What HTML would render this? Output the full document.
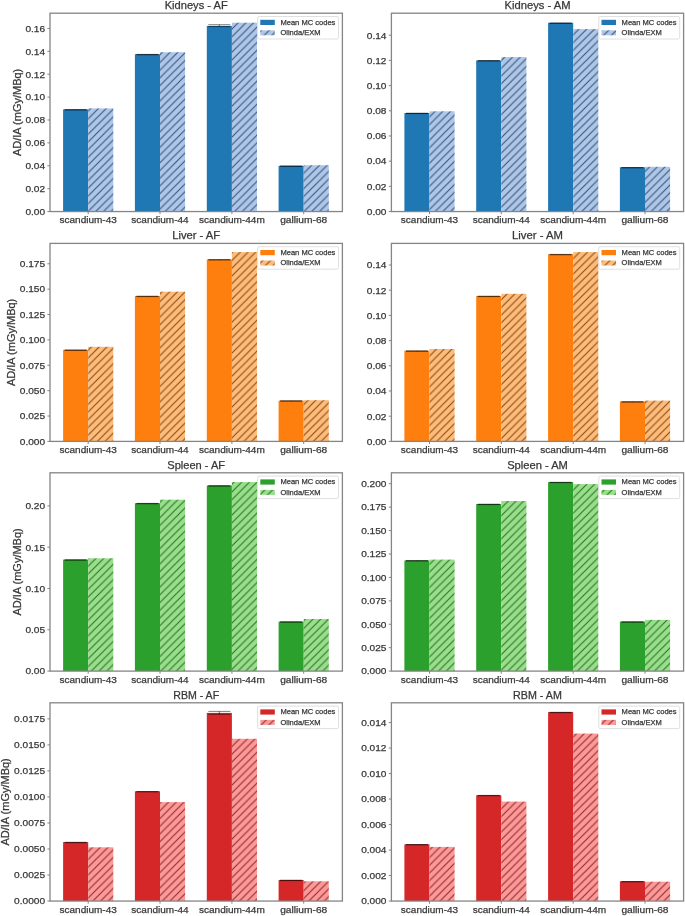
<!DOCTYPE html><html><head><meta charset="utf-8"><style>html,body{margin:0;padding:0;background:#fff;}svg{display:block;filter:blur(0.35px);} text{font-family:"Liberation Sans",sans-serif;fill:#383838;stroke:#383838;stroke-width:0.25px;}</style></head><body>
<svg width="685" height="916" viewBox="0 0 685 916">
<defs>
<pattern id="h_0" patternUnits="userSpaceOnUse" x="6.360" y="0" width="7.715" height="7.715">
<rect width="7.715" height="7.715" fill="#aec7e8"/>
<path d="M-1,8.715 L8.715,-1 M6.715,8.715 L8.715,6.715 M-1,1 L1,-1" stroke="#223f66" stroke-opacity="0.85" stroke-width="1.1" fill="none"/>
</pattern>
<pattern id="h_1" patternUnits="userSpaceOnUse" x="6.360" y="0" width="7.715" height="7.715">
<rect width="7.715" height="7.715" fill="#aec7e8"/>
<path d="M-1,8.715 L8.715,-1 M6.715,8.715 L8.715,6.715 M-1,1 L1,-1" stroke="#223f66" stroke-opacity="0.85" stroke-width="1.1" fill="none"/>
</pattern>
<pattern id="h_2" patternUnits="userSpaceOnUse" x="6.360" y="0" width="7.715" height="7.715">
<rect width="7.715" height="7.715" fill="#ffbb78"/>
<path d="M-1,8.715 L8.715,-1 M6.715,8.715 L8.715,6.715 M-1,1 L1,-1" stroke="#6e3a0c" stroke-opacity="0.85" stroke-width="1.1" fill="none"/>
</pattern>
<pattern id="h_3" patternUnits="userSpaceOnUse" x="6.360" y="0" width="7.715" height="7.715">
<rect width="7.715" height="7.715" fill="#ffbb78"/>
<path d="M-1,8.715 L8.715,-1 M6.715,8.715 L8.715,6.715 M-1,1 L1,-1" stroke="#6e3a0c" stroke-opacity="0.85" stroke-width="1.1" fill="none"/>
</pattern>
<pattern id="h_4" patternUnits="userSpaceOnUse" x="6.360" y="0" width="7.715" height="7.715">
<rect width="7.715" height="7.715" fill="#98df8a"/>
<path d="M-1,8.715 L8.715,-1 M6.715,8.715 L8.715,6.715 M-1,1 L1,-1" stroke="#1c5e1c" stroke-opacity="0.85" stroke-width="1.1" fill="none"/>
</pattern>
<pattern id="h_5" patternUnits="userSpaceOnUse" x="6.360" y="0" width="7.715" height="7.715">
<rect width="7.715" height="7.715" fill="#98df8a"/>
<path d="M-1,8.715 L8.715,-1 M6.715,8.715 L8.715,6.715 M-1,1 L1,-1" stroke="#1c5e1c" stroke-opacity="0.85" stroke-width="1.1" fill="none"/>
</pattern>
<pattern id="h_6" patternUnits="userSpaceOnUse" x="6.360" y="0" width="7.715" height="7.715">
<rect width="7.715" height="7.715" fill="#ff9896"/>
<path d="M-1,8.715 L8.715,-1 M6.715,8.715 L8.715,6.715 M-1,1 L1,-1" stroke="#702020" stroke-opacity="0.85" stroke-width="1.1" fill="none"/>
</pattern>
<pattern id="h_7" patternUnits="userSpaceOnUse" x="6.360" y="0" width="7.715" height="7.715">
<rect width="7.715" height="7.715" fill="#ff9896"/>
<path d="M-1,8.715 L8.715,-1 M6.715,8.715 L8.715,6.715 M-1,1 L1,-1" stroke="#702020" stroke-opacity="0.85" stroke-width="1.1" fill="none"/>
</pattern>
</defs>
<rect width="685" height="916" fill="#fff"/>
<rect x="63.10" y="109.40" width="25.10" height="102.15" fill="#1f77b4"/>
<rect x="88.20" y="108.40" width="25.10" height="103.15" fill="url(#h_0)"/>
<rect x="134.90" y="54.20" width="25.10" height="157.35" fill="#1f77b4"/>
<rect x="160.00" y="52.20" width="25.10" height="159.35" fill="url(#h_0)"/>
<rect x="206.80" y="25.90" width="25.10" height="185.65" fill="#1f77b4"/>
<rect x="231.90" y="22.70" width="25.10" height="188.85" fill="url(#h_0)"/>
<rect x="278.60" y="165.80" width="25.10" height="45.75" fill="#1f77b4"/>
<rect x="303.70" y="165.20" width="25.10" height="46.35" fill="url(#h_0)"/>
<path d="M64.65,109.60 H86.65 M64.65,110.00 H86.65 M75.65,109.60 V110.00" stroke="#000" stroke-opacity="0.5" stroke-width="1" fill="none"/>
<path d="M136.45,54.40 H158.45 M136.45,54.80 H158.45 M147.45,54.40 V54.80" stroke="#000" stroke-opacity="0.5" stroke-width="1" fill="none"/>
<path d="M208.35,24.70 H230.35 M208.35,26.60 H230.35 M219.35,24.70 V26.60" stroke="#000" stroke-opacity="0.5" stroke-width="1" fill="none"/>
<path d="M280.15,166.00 H302.15 M280.15,166.40 H302.15 M291.15,166.00 V166.40" stroke="#000" stroke-opacity="0.5" stroke-width="1" fill="none"/>
<rect x="50.00" y="13.20" width="292.40" height="198.35" fill="none" stroke="#858585" stroke-width="1.3"/>
<line x1="47.40" y1="211.55" x2="50.00" y2="211.55" stroke="#858585" stroke-width="1"/>
<text x="45.10" y="214.85" font-size="9.20" text-anchor="end" textLength="19.70" lengthAdjust="spacingAndGlyphs">0.00</text>
<line x1="47.40" y1="188.66" x2="50.00" y2="188.66" stroke="#858585" stroke-width="1"/>
<text x="45.10" y="191.96" font-size="9.20" text-anchor="end" textLength="19.70" lengthAdjust="spacingAndGlyphs">0.02</text>
<line x1="47.40" y1="165.77" x2="50.00" y2="165.77" stroke="#858585" stroke-width="1"/>
<text x="45.10" y="169.07" font-size="9.20" text-anchor="end" textLength="19.70" lengthAdjust="spacingAndGlyphs">0.04</text>
<line x1="47.40" y1="142.88" x2="50.00" y2="142.88" stroke="#858585" stroke-width="1"/>
<text x="45.10" y="146.18" font-size="9.20" text-anchor="end" textLength="19.70" lengthAdjust="spacingAndGlyphs">0.06</text>
<line x1="47.40" y1="119.99" x2="50.00" y2="119.99" stroke="#858585" stroke-width="1"/>
<text x="45.10" y="123.29" font-size="9.20" text-anchor="end" textLength="19.70" lengthAdjust="spacingAndGlyphs">0.08</text>
<line x1="47.40" y1="97.10" x2="50.00" y2="97.10" stroke="#858585" stroke-width="1"/>
<text x="45.10" y="100.40" font-size="9.20" text-anchor="end" textLength="19.70" lengthAdjust="spacingAndGlyphs">0.10</text>
<line x1="47.40" y1="74.21" x2="50.00" y2="74.21" stroke="#858585" stroke-width="1"/>
<text x="45.10" y="77.51" font-size="9.20" text-anchor="end" textLength="19.70" lengthAdjust="spacingAndGlyphs">0.12</text>
<line x1="47.40" y1="51.32" x2="50.00" y2="51.32" stroke="#858585" stroke-width="1"/>
<text x="45.10" y="54.62" font-size="9.20" text-anchor="end" textLength="19.70" lengthAdjust="spacingAndGlyphs">0.14</text>
<line x1="47.40" y1="28.43" x2="50.00" y2="28.43" stroke="#858585" stroke-width="1"/>
<text x="45.10" y="31.73" font-size="9.20" text-anchor="end" textLength="19.70" lengthAdjust="spacingAndGlyphs">0.16</text>
<line x1="88.20" y1="211.55" x2="88.20" y2="214.15" stroke="#858585" stroke-width="1"/>
<text x="88.20" y="223.45" font-size="9.20" text-anchor="middle" textLength="57.28" lengthAdjust="spacingAndGlyphs">scandium-43</text>
<line x1="160.00" y1="211.55" x2="160.00" y2="214.15" stroke="#858585" stroke-width="1"/>
<text x="160.00" y="223.45" font-size="9.20" text-anchor="middle" textLength="57.28" lengthAdjust="spacingAndGlyphs">scandium-44</text>
<line x1="231.90" y1="211.55" x2="231.90" y2="214.15" stroke="#858585" stroke-width="1"/>
<text x="231.90" y="223.45" font-size="9.20" text-anchor="middle" textLength="65.90" lengthAdjust="spacingAndGlyphs">scandium-44m</text>
<line x1="303.70" y1="211.55" x2="303.70" y2="214.15" stroke="#858585" stroke-width="1"/>
<text x="303.70" y="223.45" font-size="9.20" text-anchor="middle" textLength="47.11" lengthAdjust="spacingAndGlyphs">gallium-68</text>
<text x="196.20" y="9.20" font-size="10.50" text-anchor="middle" textLength="63.11" lengthAdjust="spacingAndGlyphs">Kidneys - AF</text>
<text transform="translate(20.90,112.38) rotate(-90)" x="0" y="0" font-size="10.20" text-anchor="middle" textLength="87.30" lengthAdjust="spacingAndGlyphs">AD/IA (mGy/MBq)</text>
<rect x="257.60" y="16.50" width="80.90" height="22.50" rx="1.5" fill="#fff" fill-opacity="0.8" stroke="#d8d8d8" stroke-width="0.8"/>
<rect x="260.30" y="19.80" width="14.5" height="5.2" fill="#1f77b4"/>
<rect x="260.30" y="30.30" width="14.5" height="5.0" fill="url(#h_0)"/>
<text x="280.40" y="24.60" font-size="7.40" textLength="54.98" lengthAdjust="spacingAndGlyphs">Mean MC codes</text>
<text x="280.40" y="35.10" font-size="7.40" textLength="40.19" lengthAdjust="spacingAndGlyphs">Olinda/EXM</text>
<rect x="404.40" y="113.00" width="25.10" height="98.55" fill="#1f77b4"/>
<rect x="429.50" y="111.30" width="25.10" height="100.25" fill="url(#h_1)"/>
<rect x="476.20" y="60.40" width="25.10" height="151.15" fill="#1f77b4"/>
<rect x="501.30" y="57.10" width="25.10" height="154.45" fill="url(#h_1)"/>
<rect x="548.10" y="22.80" width="25.10" height="188.75" fill="#1f77b4"/>
<rect x="573.20" y="29.10" width="25.10" height="182.45" fill="url(#h_1)"/>
<rect x="619.90" y="167.30" width="25.10" height="44.25" fill="#1f77b4"/>
<rect x="645.00" y="166.80" width="25.10" height="44.75" fill="url(#h_1)"/>
<path d="M405.95,113.20 H427.95 M405.95,113.60 H427.95 M416.95,113.20 V113.60" stroke="#000" stroke-opacity="0.5" stroke-width="1" fill="none"/>
<path d="M477.75,60.60 H499.75 M477.75,61.00 H499.75 M488.75,60.60 V61.00" stroke="#000" stroke-opacity="0.5" stroke-width="1" fill="none"/>
<path d="M549.65,23.00 H571.65 M549.65,23.40 H571.65 M560.65,23.00 V23.40" stroke="#000" stroke-opacity="0.5" stroke-width="1" fill="none"/>
<path d="M621.45,167.50 H643.45 M621.45,167.90 H643.45 M632.45,167.50 V167.90" stroke="#000" stroke-opacity="0.5" stroke-width="1" fill="none"/>
<rect x="391.40" y="13.20" width="292.20" height="198.35" fill="none" stroke="#858585" stroke-width="1.3"/>
<line x1="388.80" y1="211.55" x2="391.40" y2="211.55" stroke="#858585" stroke-width="1"/>
<text x="386.50" y="214.85" font-size="9.20" text-anchor="end" textLength="19.70" lengthAdjust="spacingAndGlyphs">0.00</text>
<line x1="388.80" y1="186.36" x2="391.40" y2="186.36" stroke="#858585" stroke-width="1"/>
<text x="386.50" y="189.66" font-size="9.20" text-anchor="end" textLength="19.70" lengthAdjust="spacingAndGlyphs">0.02</text>
<line x1="388.80" y1="161.17" x2="391.40" y2="161.17" stroke="#858585" stroke-width="1"/>
<text x="386.50" y="164.47" font-size="9.20" text-anchor="end" textLength="19.70" lengthAdjust="spacingAndGlyphs">0.04</text>
<line x1="388.80" y1="135.98" x2="391.40" y2="135.98" stroke="#858585" stroke-width="1"/>
<text x="386.50" y="139.28" font-size="9.20" text-anchor="end" textLength="19.70" lengthAdjust="spacingAndGlyphs">0.06</text>
<line x1="388.80" y1="110.79" x2="391.40" y2="110.79" stroke="#858585" stroke-width="1"/>
<text x="386.50" y="114.09" font-size="9.20" text-anchor="end" textLength="19.70" lengthAdjust="spacingAndGlyphs">0.08</text>
<line x1="388.80" y1="85.60" x2="391.40" y2="85.60" stroke="#858585" stroke-width="1"/>
<text x="386.50" y="88.90" font-size="9.20" text-anchor="end" textLength="19.70" lengthAdjust="spacingAndGlyphs">0.10</text>
<line x1="388.80" y1="60.41" x2="391.40" y2="60.41" stroke="#858585" stroke-width="1"/>
<text x="386.50" y="63.71" font-size="9.20" text-anchor="end" textLength="19.70" lengthAdjust="spacingAndGlyphs">0.12</text>
<line x1="388.80" y1="35.22" x2="391.40" y2="35.22" stroke="#858585" stroke-width="1"/>
<text x="386.50" y="38.52" font-size="9.20" text-anchor="end" textLength="19.70" lengthAdjust="spacingAndGlyphs">0.14</text>
<line x1="429.50" y1="211.55" x2="429.50" y2="214.15" stroke="#858585" stroke-width="1"/>
<text x="429.50" y="223.45" font-size="9.20" text-anchor="middle" textLength="57.28" lengthAdjust="spacingAndGlyphs">scandium-43</text>
<line x1="501.30" y1="211.55" x2="501.30" y2="214.15" stroke="#858585" stroke-width="1"/>
<text x="501.30" y="223.45" font-size="9.20" text-anchor="middle" textLength="57.28" lengthAdjust="spacingAndGlyphs">scandium-44</text>
<line x1="573.20" y1="211.55" x2="573.20" y2="214.15" stroke="#858585" stroke-width="1"/>
<text x="573.20" y="223.45" font-size="9.20" text-anchor="middle" textLength="65.90" lengthAdjust="spacingAndGlyphs">scandium-44m</text>
<line x1="645.00" y1="211.55" x2="645.00" y2="214.15" stroke="#858585" stroke-width="1"/>
<text x="645.00" y="223.45" font-size="9.20" text-anchor="middle" textLength="47.11" lengthAdjust="spacingAndGlyphs">gallium-68</text>
<text x="537.50" y="9.20" font-size="10.50" text-anchor="middle" textLength="66.04" lengthAdjust="spacingAndGlyphs">Kidneys - AM</text>
<rect x="598.80" y="16.50" width="80.90" height="22.50" rx="1.5" fill="#fff" fill-opacity="0.8" stroke="#d8d8d8" stroke-width="0.8"/>
<rect x="601.50" y="19.80" width="14.5" height="5.2" fill="#1f77b4"/>
<rect x="601.50" y="30.30" width="14.5" height="5.0" fill="url(#h_1)"/>
<text x="621.60" y="24.60" font-size="7.40" textLength="54.98" lengthAdjust="spacingAndGlyphs">Mean MC codes</text>
<text x="621.60" y="35.10" font-size="7.40" textLength="40.19" lengthAdjust="spacingAndGlyphs">Olinda/EXM</text>
<rect x="63.10" y="349.80" width="25.10" height="91.60" fill="#ff7f0e"/>
<rect x="88.20" y="346.80" width="25.10" height="94.60" fill="url(#h_2)"/>
<rect x="134.90" y="296.00" width="25.10" height="145.40" fill="#ff7f0e"/>
<rect x="160.00" y="291.70" width="25.10" height="149.70" fill="url(#h_2)"/>
<rect x="206.80" y="259.40" width="25.10" height="182.00" fill="#ff7f0e"/>
<rect x="231.90" y="252.10" width="25.10" height="189.30" fill="url(#h_2)"/>
<rect x="278.60" y="400.60" width="25.10" height="40.80" fill="#ff7f0e"/>
<rect x="303.70" y="400.20" width="25.10" height="41.20" fill="url(#h_2)"/>
<path d="M64.65,350.00 H86.65 M64.65,350.40 H86.65 M75.65,350.00 V350.40" stroke="#000" stroke-opacity="0.5" stroke-width="1" fill="none"/>
<path d="M136.45,296.20 H158.45 M136.45,296.60 H158.45 M147.45,296.20 V296.60" stroke="#000" stroke-opacity="0.5" stroke-width="1" fill="none"/>
<path d="M208.35,259.60 H230.35 M208.35,260.00 H230.35 M219.35,259.60 V260.00" stroke="#000" stroke-opacity="0.5" stroke-width="1" fill="none"/>
<path d="M280.15,400.80 H302.15 M280.15,401.20 H302.15 M291.15,400.80 V401.20" stroke="#000" stroke-opacity="0.5" stroke-width="1" fill="none"/>
<rect x="50.00" y="243.40" width="292.40" height="198.00" fill="none" stroke="#858585" stroke-width="1.3"/>
<line x1="47.40" y1="441.40" x2="50.00" y2="441.40" stroke="#858585" stroke-width="1"/>
<text x="45.10" y="444.70" font-size="9.20" text-anchor="end" textLength="25.33" lengthAdjust="spacingAndGlyphs">0.000</text>
<line x1="47.40" y1="416.02" x2="50.00" y2="416.02" stroke="#858585" stroke-width="1"/>
<text x="45.10" y="419.32" font-size="9.20" text-anchor="end" textLength="25.33" lengthAdjust="spacingAndGlyphs">0.025</text>
<line x1="47.40" y1="390.65" x2="50.00" y2="390.65" stroke="#858585" stroke-width="1"/>
<text x="45.10" y="393.95" font-size="9.20" text-anchor="end" textLength="25.33" lengthAdjust="spacingAndGlyphs">0.050</text>
<line x1="47.40" y1="365.27" x2="50.00" y2="365.27" stroke="#858585" stroke-width="1"/>
<text x="45.10" y="368.57" font-size="9.20" text-anchor="end" textLength="25.33" lengthAdjust="spacingAndGlyphs">0.075</text>
<line x1="47.40" y1="339.90" x2="50.00" y2="339.90" stroke="#858585" stroke-width="1"/>
<text x="45.10" y="343.20" font-size="9.20" text-anchor="end" textLength="25.33" lengthAdjust="spacingAndGlyphs">0.100</text>
<line x1="47.40" y1="314.52" x2="50.00" y2="314.52" stroke="#858585" stroke-width="1"/>
<text x="45.10" y="317.82" font-size="9.20" text-anchor="end" textLength="25.33" lengthAdjust="spacingAndGlyphs">0.125</text>
<line x1="47.40" y1="289.15" x2="50.00" y2="289.15" stroke="#858585" stroke-width="1"/>
<text x="45.10" y="292.45" font-size="9.20" text-anchor="end" textLength="25.33" lengthAdjust="spacingAndGlyphs">0.150</text>
<line x1="47.40" y1="263.77" x2="50.00" y2="263.77" stroke="#858585" stroke-width="1"/>
<text x="45.10" y="267.07" font-size="9.20" text-anchor="end" textLength="25.33" lengthAdjust="spacingAndGlyphs">0.175</text>
<line x1="88.20" y1="441.40" x2="88.20" y2="444.00" stroke="#858585" stroke-width="1"/>
<text x="88.20" y="453.30" font-size="9.20" text-anchor="middle" textLength="57.28" lengthAdjust="spacingAndGlyphs">scandium-43</text>
<line x1="160.00" y1="441.40" x2="160.00" y2="444.00" stroke="#858585" stroke-width="1"/>
<text x="160.00" y="453.30" font-size="9.20" text-anchor="middle" textLength="57.28" lengthAdjust="spacingAndGlyphs">scandium-44</text>
<line x1="231.90" y1="441.40" x2="231.90" y2="444.00" stroke="#858585" stroke-width="1"/>
<text x="231.90" y="453.30" font-size="9.20" text-anchor="middle" textLength="65.90" lengthAdjust="spacingAndGlyphs">scandium-44m</text>
<line x1="303.70" y1="441.40" x2="303.70" y2="444.00" stroke="#858585" stroke-width="1"/>
<text x="303.70" y="453.30" font-size="9.20" text-anchor="middle" textLength="47.11" lengthAdjust="spacingAndGlyphs">gallium-68</text>
<text x="196.20" y="239.40" font-size="10.50" text-anchor="middle" textLength="48.03" lengthAdjust="spacingAndGlyphs">Liver - AF</text>
<text transform="translate(14.80,342.40) rotate(-90)" x="0" y="0" font-size="10.20" text-anchor="middle" textLength="87.30" lengthAdjust="spacingAndGlyphs">AD/IA (mGy/MBq)</text>
<rect x="257.60" y="246.70" width="80.90" height="22.50" rx="1.5" fill="#fff" fill-opacity="0.8" stroke="#d8d8d8" stroke-width="0.8"/>
<rect x="260.30" y="250.00" width="14.5" height="5.2" fill="#ff7f0e"/>
<rect x="260.30" y="260.50" width="14.5" height="5.0" fill="url(#h_2)"/>
<text x="280.40" y="254.80" font-size="7.40" textLength="54.98" lengthAdjust="spacingAndGlyphs">Mean MC codes</text>
<text x="280.40" y="265.30" font-size="7.40" textLength="40.19" lengthAdjust="spacingAndGlyphs">Olinda/EXM</text>
<rect x="404.40" y="350.70" width="25.10" height="90.70" fill="#ff7f0e"/>
<rect x="429.50" y="349.00" width="25.10" height="92.40" fill="url(#h_3)"/>
<rect x="476.20" y="296.00" width="25.10" height="145.40" fill="#ff7f0e"/>
<rect x="501.30" y="293.80" width="25.10" height="147.60" fill="url(#h_3)"/>
<rect x="548.10" y="254.20" width="25.10" height="187.20" fill="#ff7f0e"/>
<rect x="573.20" y="252.10" width="25.10" height="189.30" fill="url(#h_3)"/>
<rect x="619.90" y="401.50" width="25.10" height="39.90" fill="#ff7f0e"/>
<rect x="645.00" y="400.60" width="25.10" height="40.80" fill="url(#h_3)"/>
<path d="M405.95,350.90 H427.95 M405.95,351.30 H427.95 M416.95,350.90 V351.30" stroke="#000" stroke-opacity="0.5" stroke-width="1" fill="none"/>
<path d="M477.75,296.20 H499.75 M477.75,296.60 H499.75 M488.75,296.20 V296.60" stroke="#000" stroke-opacity="0.5" stroke-width="1" fill="none"/>
<path d="M549.65,254.40 H571.65 M549.65,254.80 H571.65 M560.65,254.40 V254.80" stroke="#000" stroke-opacity="0.5" stroke-width="1" fill="none"/>
<path d="M621.45,401.70 H643.45 M621.45,402.10 H643.45 M632.45,401.70 V402.10" stroke="#000" stroke-opacity="0.5" stroke-width="1" fill="none"/>
<rect x="391.40" y="243.40" width="292.20" height="198.00" fill="none" stroke="#858585" stroke-width="1.3"/>
<line x1="388.80" y1="441.40" x2="391.40" y2="441.40" stroke="#858585" stroke-width="1"/>
<text x="386.50" y="444.70" font-size="9.20" text-anchor="end" textLength="19.70" lengthAdjust="spacingAndGlyphs">0.00</text>
<line x1="388.80" y1="416.20" x2="391.40" y2="416.20" stroke="#858585" stroke-width="1"/>
<text x="386.50" y="419.50" font-size="9.20" text-anchor="end" textLength="19.70" lengthAdjust="spacingAndGlyphs">0.02</text>
<line x1="388.80" y1="391.00" x2="391.40" y2="391.00" stroke="#858585" stroke-width="1"/>
<text x="386.50" y="394.30" font-size="9.20" text-anchor="end" textLength="19.70" lengthAdjust="spacingAndGlyphs">0.04</text>
<line x1="388.80" y1="365.80" x2="391.40" y2="365.80" stroke="#858585" stroke-width="1"/>
<text x="386.50" y="369.10" font-size="9.20" text-anchor="end" textLength="19.70" lengthAdjust="spacingAndGlyphs">0.06</text>
<line x1="388.80" y1="340.60" x2="391.40" y2="340.60" stroke="#858585" stroke-width="1"/>
<text x="386.50" y="343.90" font-size="9.20" text-anchor="end" textLength="19.70" lengthAdjust="spacingAndGlyphs">0.08</text>
<line x1="388.80" y1="315.40" x2="391.40" y2="315.40" stroke="#858585" stroke-width="1"/>
<text x="386.50" y="318.70" font-size="9.20" text-anchor="end" textLength="19.70" lengthAdjust="spacingAndGlyphs">0.10</text>
<line x1="388.80" y1="290.20" x2="391.40" y2="290.20" stroke="#858585" stroke-width="1"/>
<text x="386.50" y="293.50" font-size="9.20" text-anchor="end" textLength="19.70" lengthAdjust="spacingAndGlyphs">0.12</text>
<line x1="388.80" y1="265.00" x2="391.40" y2="265.00" stroke="#858585" stroke-width="1"/>
<text x="386.50" y="268.30" font-size="9.20" text-anchor="end" textLength="19.70" lengthAdjust="spacingAndGlyphs">0.14</text>
<line x1="429.50" y1="441.40" x2="429.50" y2="444.00" stroke="#858585" stroke-width="1"/>
<text x="429.50" y="453.30" font-size="9.20" text-anchor="middle" textLength="57.28" lengthAdjust="spacingAndGlyphs">scandium-43</text>
<line x1="501.30" y1="441.40" x2="501.30" y2="444.00" stroke="#858585" stroke-width="1"/>
<text x="501.30" y="453.30" font-size="9.20" text-anchor="middle" textLength="57.28" lengthAdjust="spacingAndGlyphs">scandium-44</text>
<line x1="573.20" y1="441.40" x2="573.20" y2="444.00" stroke="#858585" stroke-width="1"/>
<text x="573.20" y="453.30" font-size="9.20" text-anchor="middle" textLength="65.90" lengthAdjust="spacingAndGlyphs">scandium-44m</text>
<line x1="645.00" y1="441.40" x2="645.00" y2="444.00" stroke="#858585" stroke-width="1"/>
<text x="645.00" y="453.30" font-size="9.20" text-anchor="middle" textLength="47.11" lengthAdjust="spacingAndGlyphs">gallium-68</text>
<text x="537.50" y="239.40" font-size="10.50" text-anchor="middle" textLength="50.97" lengthAdjust="spacingAndGlyphs">Liver - AM</text>
<rect x="598.80" y="246.70" width="80.90" height="22.50" rx="1.5" fill="#fff" fill-opacity="0.8" stroke="#d8d8d8" stroke-width="0.8"/>
<rect x="601.50" y="250.00" width="14.5" height="5.2" fill="#ff7f0e"/>
<rect x="601.50" y="260.50" width="14.5" height="5.0" fill="url(#h_3)"/>
<text x="621.60" y="254.80" font-size="7.40" textLength="54.98" lengthAdjust="spacingAndGlyphs">Mean MC codes</text>
<text x="621.60" y="265.30" font-size="7.40" textLength="40.19" lengthAdjust="spacingAndGlyphs">Olinda/EXM</text>
<rect x="63.10" y="559.60" width="25.10" height="111.50" fill="#2ca02c"/>
<rect x="88.20" y="558.30" width="25.10" height="112.80" fill="url(#h_4)"/>
<rect x="134.90" y="503.20" width="25.10" height="167.90" fill="#2ca02c"/>
<rect x="160.00" y="499.70" width="25.10" height="171.40" fill="url(#h_4)"/>
<rect x="206.80" y="485.50" width="25.10" height="185.60" fill="#2ca02c"/>
<rect x="231.90" y="482.10" width="25.10" height="189.00" fill="url(#h_4)"/>
<rect x="278.60" y="621.60" width="25.10" height="49.50" fill="#2ca02c"/>
<rect x="303.70" y="619.00" width="25.10" height="52.10" fill="url(#h_4)"/>
<path d="M64.65,559.80 H86.65 M64.65,560.20 H86.65 M75.65,559.80 V560.20" stroke="#000" stroke-opacity="0.5" stroke-width="1" fill="none"/>
<path d="M136.45,503.40 H158.45 M136.45,503.80 H158.45 M147.45,503.40 V503.80" stroke="#000" stroke-opacity="0.5" stroke-width="1" fill="none"/>
<path d="M208.35,485.70 H230.35 M208.35,486.10 H230.35 M219.35,485.70 V486.10" stroke="#000" stroke-opacity="0.5" stroke-width="1" fill="none"/>
<path d="M280.15,621.80 H302.15 M280.15,622.20 H302.15 M291.15,621.80 V622.20" stroke="#000" stroke-opacity="0.5" stroke-width="1" fill="none"/>
<rect x="50.00" y="472.80" width="292.40" height="198.30" fill="none" stroke="#858585" stroke-width="1.3"/>
<line x1="47.40" y1="671.10" x2="50.00" y2="671.10" stroke="#858585" stroke-width="1"/>
<text x="45.10" y="674.40" font-size="9.20" text-anchor="end" textLength="19.70" lengthAdjust="spacingAndGlyphs">0.00</text>
<line x1="47.40" y1="629.80" x2="50.00" y2="629.80" stroke="#858585" stroke-width="1"/>
<text x="45.10" y="633.10" font-size="9.20" text-anchor="end" textLength="19.70" lengthAdjust="spacingAndGlyphs">0.05</text>
<line x1="47.40" y1="588.50" x2="50.00" y2="588.50" stroke="#858585" stroke-width="1"/>
<text x="45.10" y="591.80" font-size="9.20" text-anchor="end" textLength="19.70" lengthAdjust="spacingAndGlyphs">0.10</text>
<line x1="47.40" y1="547.20" x2="50.00" y2="547.20" stroke="#858585" stroke-width="1"/>
<text x="45.10" y="550.50" font-size="9.20" text-anchor="end" textLength="19.70" lengthAdjust="spacingAndGlyphs">0.15</text>
<line x1="47.40" y1="505.90" x2="50.00" y2="505.90" stroke="#858585" stroke-width="1"/>
<text x="45.10" y="509.20" font-size="9.20" text-anchor="end" textLength="19.70" lengthAdjust="spacingAndGlyphs">0.20</text>
<line x1="88.20" y1="671.10" x2="88.20" y2="673.70" stroke="#858585" stroke-width="1"/>
<text x="88.20" y="683.00" font-size="9.20" text-anchor="middle" textLength="57.28" lengthAdjust="spacingAndGlyphs">scandium-43</text>
<line x1="160.00" y1="671.10" x2="160.00" y2="673.70" stroke="#858585" stroke-width="1"/>
<text x="160.00" y="683.00" font-size="9.20" text-anchor="middle" textLength="57.28" lengthAdjust="spacingAndGlyphs">scandium-44</text>
<line x1="231.90" y1="671.10" x2="231.90" y2="673.70" stroke="#858585" stroke-width="1"/>
<text x="231.90" y="683.00" font-size="9.20" text-anchor="middle" textLength="65.90" lengthAdjust="spacingAndGlyphs">scandium-44m</text>
<line x1="303.70" y1="671.10" x2="303.70" y2="673.70" stroke="#858585" stroke-width="1"/>
<text x="303.70" y="683.00" font-size="9.20" text-anchor="middle" textLength="47.11" lengthAdjust="spacingAndGlyphs">gallium-68</text>
<text x="196.20" y="468.80" font-size="10.50" text-anchor="middle" textLength="57.81" lengthAdjust="spacingAndGlyphs">Spleen - AF</text>
<text transform="translate(20.70,571.95) rotate(-90)" x="0" y="0" font-size="10.20" text-anchor="middle" textLength="87.30" lengthAdjust="spacingAndGlyphs">AD/IA (mGy/MBq)</text>
<rect x="257.60" y="476.10" width="80.90" height="22.50" rx="1.5" fill="#fff" fill-opacity="0.8" stroke="#d8d8d8" stroke-width="0.8"/>
<rect x="260.30" y="479.40" width="14.5" height="5.2" fill="#2ca02c"/>
<rect x="260.30" y="489.90" width="14.5" height="5.0" fill="url(#h_4)"/>
<text x="280.40" y="484.20" font-size="7.40" textLength="54.98" lengthAdjust="spacingAndGlyphs">Mean MC codes</text>
<text x="280.40" y="494.70" font-size="7.40" textLength="40.19" lengthAdjust="spacingAndGlyphs">Olinda/EXM</text>
<rect x="404.40" y="560.40" width="25.10" height="110.70" fill="#2ca02c"/>
<rect x="429.50" y="559.60" width="25.10" height="111.50" fill="url(#h_5)"/>
<rect x="476.20" y="504.00" width="25.10" height="167.10" fill="#2ca02c"/>
<rect x="501.30" y="501.00" width="25.10" height="170.10" fill="url(#h_5)"/>
<rect x="548.10" y="482.10" width="25.10" height="189.00" fill="#2ca02c"/>
<rect x="573.20" y="484.10" width="25.10" height="187.00" fill="url(#h_5)"/>
<rect x="619.90" y="621.60" width="25.10" height="49.50" fill="#2ca02c"/>
<rect x="645.00" y="619.90" width="25.10" height="51.20" fill="url(#h_5)"/>
<path d="M405.95,560.60 H427.95 M405.95,561.00 H427.95 M416.95,560.60 V561.00" stroke="#000" stroke-opacity="0.5" stroke-width="1" fill="none"/>
<path d="M477.75,504.20 H499.75 M477.75,504.60 H499.75 M488.75,504.20 V504.60" stroke="#000" stroke-opacity="0.5" stroke-width="1" fill="none"/>
<path d="M549.65,482.30 H571.65 M549.65,482.70 H571.65 M560.65,482.30 V482.70" stroke="#000" stroke-opacity="0.5" stroke-width="1" fill="none"/>
<path d="M621.45,621.80 H643.45 M621.45,622.20 H643.45 M632.45,621.80 V622.20" stroke="#000" stroke-opacity="0.5" stroke-width="1" fill="none"/>
<rect x="391.40" y="472.80" width="292.20" height="198.30" fill="none" stroke="#858585" stroke-width="1.3"/>
<line x1="388.80" y1="671.10" x2="391.40" y2="671.10" stroke="#858585" stroke-width="1"/>
<text x="386.50" y="674.40" font-size="9.20" text-anchor="end" textLength="25.33" lengthAdjust="spacingAndGlyphs">0.000</text>
<line x1="388.80" y1="647.68" x2="391.40" y2="647.68" stroke="#858585" stroke-width="1"/>
<text x="386.50" y="650.98" font-size="9.20" text-anchor="end" textLength="25.33" lengthAdjust="spacingAndGlyphs">0.025</text>
<line x1="388.80" y1="624.25" x2="391.40" y2="624.25" stroke="#858585" stroke-width="1"/>
<text x="386.50" y="627.55" font-size="9.20" text-anchor="end" textLength="25.33" lengthAdjust="spacingAndGlyphs">0.050</text>
<line x1="388.80" y1="600.83" x2="391.40" y2="600.83" stroke="#858585" stroke-width="1"/>
<text x="386.50" y="604.12" font-size="9.20" text-anchor="end" textLength="25.33" lengthAdjust="spacingAndGlyphs">0.075</text>
<line x1="388.80" y1="577.40" x2="391.40" y2="577.40" stroke="#858585" stroke-width="1"/>
<text x="386.50" y="580.70" font-size="9.20" text-anchor="end" textLength="25.33" lengthAdjust="spacingAndGlyphs">0.100</text>
<line x1="388.80" y1="553.98" x2="391.40" y2="553.98" stroke="#858585" stroke-width="1"/>
<text x="386.50" y="557.27" font-size="9.20" text-anchor="end" textLength="25.33" lengthAdjust="spacingAndGlyphs">0.125</text>
<line x1="388.80" y1="530.55" x2="391.40" y2="530.55" stroke="#858585" stroke-width="1"/>
<text x="386.50" y="533.85" font-size="9.20" text-anchor="end" textLength="25.33" lengthAdjust="spacingAndGlyphs">0.150</text>
<line x1="388.80" y1="507.12" x2="391.40" y2="507.12" stroke="#858585" stroke-width="1"/>
<text x="386.50" y="510.43" font-size="9.20" text-anchor="end" textLength="25.33" lengthAdjust="spacingAndGlyphs">0.175</text>
<line x1="388.80" y1="483.70" x2="391.40" y2="483.70" stroke="#858585" stroke-width="1"/>
<text x="386.50" y="487.00" font-size="9.20" text-anchor="end" textLength="25.33" lengthAdjust="spacingAndGlyphs">0.200</text>
<line x1="429.50" y1="671.10" x2="429.50" y2="673.70" stroke="#858585" stroke-width="1"/>
<text x="429.50" y="683.00" font-size="9.20" text-anchor="middle" textLength="57.28" lengthAdjust="spacingAndGlyphs">scandium-43</text>
<line x1="501.30" y1="671.10" x2="501.30" y2="673.70" stroke="#858585" stroke-width="1"/>
<text x="501.30" y="683.00" font-size="9.20" text-anchor="middle" textLength="57.28" lengthAdjust="spacingAndGlyphs">scandium-44</text>
<line x1="573.20" y1="671.10" x2="573.20" y2="673.70" stroke="#858585" stroke-width="1"/>
<text x="573.20" y="683.00" font-size="9.20" text-anchor="middle" textLength="65.90" lengthAdjust="spacingAndGlyphs">scandium-44m</text>
<line x1="645.00" y1="671.10" x2="645.00" y2="673.70" stroke="#858585" stroke-width="1"/>
<text x="645.00" y="683.00" font-size="9.20" text-anchor="middle" textLength="47.11" lengthAdjust="spacingAndGlyphs">gallium-68</text>
<text x="537.50" y="468.80" font-size="10.50" text-anchor="middle" textLength="60.75" lengthAdjust="spacingAndGlyphs">Spleen - AM</text>
<rect x="598.80" y="476.10" width="80.90" height="22.50" rx="1.5" fill="#fff" fill-opacity="0.8" stroke="#d8d8d8" stroke-width="0.8"/>
<rect x="601.50" y="479.40" width="14.5" height="5.2" fill="#2ca02c"/>
<rect x="601.50" y="489.90" width="14.5" height="5.0" fill="url(#h_5)"/>
<text x="621.60" y="484.20" font-size="7.40" textLength="54.98" lengthAdjust="spacingAndGlyphs">Mean MC codes</text>
<text x="621.60" y="494.70" font-size="7.40" textLength="40.19" lengthAdjust="spacingAndGlyphs">Olinda/EXM</text>
<rect x="63.10" y="842.10" width="25.10" height="58.95" fill="#d62728"/>
<rect x="88.20" y="847.30" width="25.10" height="53.75" fill="url(#h_6)"/>
<rect x="134.90" y="791.30" width="25.10" height="109.75" fill="#d62728"/>
<rect x="160.00" y="802.10" width="25.10" height="98.95" fill="url(#h_6)"/>
<rect x="206.80" y="712.90" width="25.10" height="188.15" fill="#d62728"/>
<rect x="231.90" y="738.80" width="25.10" height="162.25" fill="url(#h_6)"/>
<rect x="278.60" y="880.00" width="25.10" height="21.05" fill="#d62728"/>
<rect x="303.70" y="881.30" width="25.10" height="19.75" fill="url(#h_6)"/>
<path d="M64.65,842.30 H86.65 M64.65,842.70 H86.65 M75.65,842.30 V842.70" stroke="#000" stroke-opacity="0.5" stroke-width="1" fill="none"/>
<path d="M136.45,791.50 H158.45 M136.45,791.90 H158.45 M147.45,791.50 V791.90" stroke="#000" stroke-opacity="0.5" stroke-width="1" fill="none"/>
<path d="M208.35,711.40 H230.35 M208.35,714.30 H230.35 M219.35,711.40 V714.30" stroke="#000" stroke-opacity="0.5" stroke-width="1" fill="none"/>
<path d="M280.15,880.20 H302.15 M280.15,880.60 H302.15 M291.15,880.20 V880.60" stroke="#000" stroke-opacity="0.5" stroke-width="1" fill="none"/>
<rect x="50.00" y="702.80" width="292.40" height="198.25" fill="none" stroke="#858585" stroke-width="1.3"/>
<line x1="47.40" y1="901.05" x2="50.00" y2="901.05" stroke="#858585" stroke-width="1"/>
<text x="45.10" y="904.35" font-size="9.20" text-anchor="end" textLength="30.96" lengthAdjust="spacingAndGlyphs">0.0000</text>
<line x1="47.40" y1="875.02" x2="50.00" y2="875.02" stroke="#858585" stroke-width="1"/>
<text x="45.10" y="878.32" font-size="9.20" text-anchor="end" textLength="30.96" lengthAdjust="spacingAndGlyphs">0.0025</text>
<line x1="47.40" y1="849.00" x2="50.00" y2="849.00" stroke="#858585" stroke-width="1"/>
<text x="45.10" y="852.30" font-size="9.20" text-anchor="end" textLength="30.96" lengthAdjust="spacingAndGlyphs">0.0050</text>
<line x1="47.40" y1="822.97" x2="50.00" y2="822.97" stroke="#858585" stroke-width="1"/>
<text x="45.10" y="826.27" font-size="9.20" text-anchor="end" textLength="30.96" lengthAdjust="spacingAndGlyphs">0.0075</text>
<line x1="47.40" y1="796.95" x2="50.00" y2="796.95" stroke="#858585" stroke-width="1"/>
<text x="45.10" y="800.25" font-size="9.20" text-anchor="end" textLength="30.96" lengthAdjust="spacingAndGlyphs">0.0100</text>
<line x1="47.40" y1="770.92" x2="50.00" y2="770.92" stroke="#858585" stroke-width="1"/>
<text x="45.10" y="774.22" font-size="9.20" text-anchor="end" textLength="30.96" lengthAdjust="spacingAndGlyphs">0.0125</text>
<line x1="47.40" y1="744.90" x2="50.00" y2="744.90" stroke="#858585" stroke-width="1"/>
<text x="45.10" y="748.20" font-size="9.20" text-anchor="end" textLength="30.96" lengthAdjust="spacingAndGlyphs">0.0150</text>
<line x1="47.40" y1="718.88" x2="50.00" y2="718.88" stroke="#858585" stroke-width="1"/>
<text x="45.10" y="722.17" font-size="9.20" text-anchor="end" textLength="30.96" lengthAdjust="spacingAndGlyphs">0.0175</text>
<line x1="88.20" y1="901.05" x2="88.20" y2="903.65" stroke="#858585" stroke-width="1"/>
<text x="88.20" y="912.95" font-size="9.20" text-anchor="middle" textLength="57.28" lengthAdjust="spacingAndGlyphs">scandium-43</text>
<line x1="160.00" y1="901.05" x2="160.00" y2="903.65" stroke="#858585" stroke-width="1"/>
<text x="160.00" y="912.95" font-size="9.20" text-anchor="middle" textLength="57.28" lengthAdjust="spacingAndGlyphs">scandium-44</text>
<line x1="231.90" y1="901.05" x2="231.90" y2="903.65" stroke="#858585" stroke-width="1"/>
<text x="231.90" y="912.95" font-size="9.20" text-anchor="middle" textLength="65.90" lengthAdjust="spacingAndGlyphs">scandium-44m</text>
<line x1="303.70" y1="901.05" x2="303.70" y2="903.65" stroke="#858585" stroke-width="1"/>
<text x="303.70" y="912.95" font-size="9.20" text-anchor="middle" textLength="47.11" lengthAdjust="spacingAndGlyphs">gallium-68</text>
<text x="196.20" y="698.80" font-size="10.50" text-anchor="middle" textLength="45.90" lengthAdjust="spacingAndGlyphs">RBM - AF</text>
<text transform="translate(9.30,801.92) rotate(-90)" x="0" y="0" font-size="10.20" text-anchor="middle" textLength="87.30" lengthAdjust="spacingAndGlyphs">AD/IA (mGy/MBq)</text>
<rect x="257.60" y="706.10" width="80.90" height="22.50" rx="1.5" fill="#fff" fill-opacity="0.8" stroke="#d8d8d8" stroke-width="0.8"/>
<rect x="260.30" y="709.40" width="14.5" height="5.2" fill="#d62728"/>
<rect x="260.30" y="719.90" width="14.5" height="5.0" fill="url(#h_6)"/>
<text x="280.40" y="714.20" font-size="7.40" textLength="54.98" lengthAdjust="spacingAndGlyphs">Mean MC codes</text>
<text x="280.40" y="724.70" font-size="7.40" textLength="40.19" lengthAdjust="spacingAndGlyphs">Olinda/EXM</text>
<rect x="404.40" y="844.30" width="25.10" height="56.75" fill="#d62728"/>
<rect x="429.50" y="846.90" width="25.10" height="54.15" fill="url(#h_7)"/>
<rect x="476.20" y="795.20" width="25.10" height="105.85" fill="#d62728"/>
<rect x="501.30" y="801.60" width="25.10" height="99.45" fill="url(#h_7)"/>
<rect x="548.10" y="712.10" width="25.10" height="188.95" fill="#d62728"/>
<rect x="573.20" y="733.60" width="25.10" height="167.45" fill="url(#h_7)"/>
<rect x="619.90" y="881.30" width="25.10" height="19.75" fill="#d62728"/>
<rect x="645.00" y="881.70" width="25.10" height="19.35" fill="url(#h_7)"/>
<path d="M405.95,844.50 H427.95 M405.95,844.90 H427.95 M416.95,844.50 V844.90" stroke="#000" stroke-opacity="0.5" stroke-width="1" fill="none"/>
<path d="M477.75,795.40 H499.75 M477.75,795.80 H499.75 M488.75,795.40 V795.80" stroke="#000" stroke-opacity="0.5" stroke-width="1" fill="none"/>
<path d="M549.65,712.30 H571.65 M549.65,712.70 H571.65 M560.65,712.30 V712.70" stroke="#000" stroke-opacity="0.5" stroke-width="1" fill="none"/>
<path d="M621.45,881.50 H643.45 M621.45,881.90 H643.45 M632.45,881.50 V881.90" stroke="#000" stroke-opacity="0.5" stroke-width="1" fill="none"/>
<rect x="391.40" y="702.80" width="292.20" height="198.25" fill="none" stroke="#858585" stroke-width="1.3"/>
<line x1="388.80" y1="901.05" x2="391.40" y2="901.05" stroke="#858585" stroke-width="1"/>
<text x="386.50" y="904.35" font-size="9.20" text-anchor="end" textLength="25.33" lengthAdjust="spacingAndGlyphs">0.000</text>
<line x1="388.80" y1="875.55" x2="391.40" y2="875.55" stroke="#858585" stroke-width="1"/>
<text x="386.50" y="878.85" font-size="9.20" text-anchor="end" textLength="25.33" lengthAdjust="spacingAndGlyphs">0.002</text>
<line x1="388.80" y1="850.05" x2="391.40" y2="850.05" stroke="#858585" stroke-width="1"/>
<text x="386.50" y="853.35" font-size="9.20" text-anchor="end" textLength="25.33" lengthAdjust="spacingAndGlyphs">0.004</text>
<line x1="388.80" y1="824.55" x2="391.40" y2="824.55" stroke="#858585" stroke-width="1"/>
<text x="386.50" y="827.85" font-size="9.20" text-anchor="end" textLength="25.33" lengthAdjust="spacingAndGlyphs">0.006</text>
<line x1="388.80" y1="799.05" x2="391.40" y2="799.05" stroke="#858585" stroke-width="1"/>
<text x="386.50" y="802.35" font-size="9.20" text-anchor="end" textLength="25.33" lengthAdjust="spacingAndGlyphs">0.008</text>
<line x1="388.80" y1="773.55" x2="391.40" y2="773.55" stroke="#858585" stroke-width="1"/>
<text x="386.50" y="776.85" font-size="9.20" text-anchor="end" textLength="25.33" lengthAdjust="spacingAndGlyphs">0.010</text>
<line x1="388.80" y1="748.05" x2="391.40" y2="748.05" stroke="#858585" stroke-width="1"/>
<text x="386.50" y="751.35" font-size="9.20" text-anchor="end" textLength="25.33" lengthAdjust="spacingAndGlyphs">0.012</text>
<line x1="388.80" y1="722.55" x2="391.40" y2="722.55" stroke="#858585" stroke-width="1"/>
<text x="386.50" y="725.85" font-size="9.20" text-anchor="end" textLength="25.33" lengthAdjust="spacingAndGlyphs">0.014</text>
<line x1="429.50" y1="901.05" x2="429.50" y2="903.65" stroke="#858585" stroke-width="1"/>
<text x="429.50" y="912.95" font-size="9.20" text-anchor="middle" textLength="57.28" lengthAdjust="spacingAndGlyphs">scandium-43</text>
<line x1="501.30" y1="901.05" x2="501.30" y2="903.65" stroke="#858585" stroke-width="1"/>
<text x="501.30" y="912.95" font-size="9.20" text-anchor="middle" textLength="57.28" lengthAdjust="spacingAndGlyphs">scandium-44</text>
<line x1="573.20" y1="901.05" x2="573.20" y2="903.65" stroke="#858585" stroke-width="1"/>
<text x="573.20" y="912.95" font-size="9.20" text-anchor="middle" textLength="65.90" lengthAdjust="spacingAndGlyphs">scandium-44m</text>
<line x1="645.00" y1="901.05" x2="645.00" y2="903.65" stroke="#858585" stroke-width="1"/>
<text x="645.00" y="912.95" font-size="9.20" text-anchor="middle" textLength="47.11" lengthAdjust="spacingAndGlyphs">gallium-68</text>
<text x="537.50" y="698.80" font-size="10.50" text-anchor="middle" textLength="48.84" lengthAdjust="spacingAndGlyphs">RBM - AM</text>
<rect x="598.80" y="706.10" width="80.90" height="22.50" rx="1.5" fill="#fff" fill-opacity="0.8" stroke="#d8d8d8" stroke-width="0.8"/>
<rect x="601.50" y="709.40" width="14.5" height="5.2" fill="#d62728"/>
<rect x="601.50" y="719.90" width="14.5" height="5.0" fill="url(#h_7)"/>
<text x="621.60" y="714.20" font-size="7.40" textLength="54.98" lengthAdjust="spacingAndGlyphs">Mean MC codes</text>
<text x="621.60" y="724.70" font-size="7.40" textLength="40.19" lengthAdjust="spacingAndGlyphs">Olinda/EXM</text>
</svg></body></html>
